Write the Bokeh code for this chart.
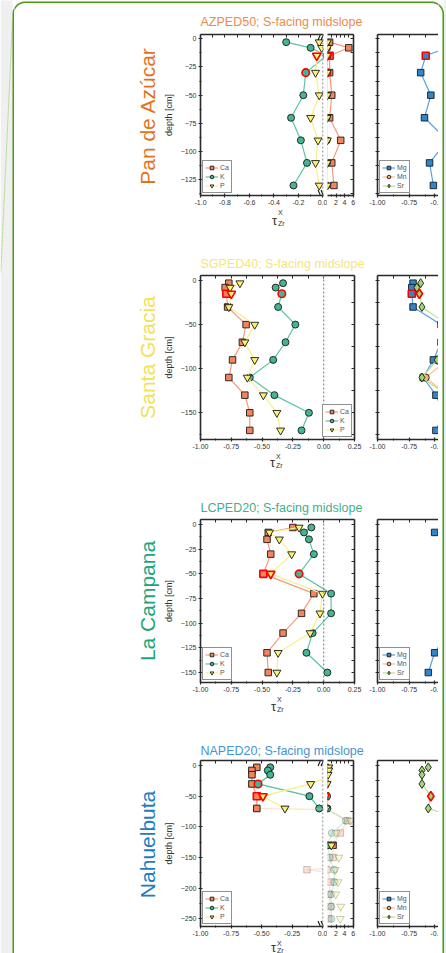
import math
import numpy as np
from bokeh.plotting import figure
from bokeh.layouts import row, column
from bokeh.models import (Range1d, LinearAxis, FixedTicker, Label, Span, Legend,
                          LegendItem, PrintfTickFormatter)
from bokeh.embed import file_html
from bokeh.resources import INLINE

# ------------------------------------------------------------------ data
# Pan de Azucar  (AZPED50)
az_depth = [3, 8, 15, 30, 50, 70, 90, 110, 130]
az_ca = [0.5, 5.0, 0.5, 0.5, 1.0, 0.5, 3.1, 1.0, 1.5]
az_k = [-0.30, -0.10, 0.03, -0.14, -0.16, -0.26, -0.18, -0.13, -0.24]
az_p = [-0.03, -0.01, -0.05, -0.06, -0.03, -0.10, -0.04, -0.06, -0.03]
az_mg = [-0.40, -0.45, -0.62, -0.66, -0.58, -0.63, -0.45, -0.59, -0.56]
az_mn = [-0.20, -0.25, -0.30, -0.25, -0.20, -0.30, -0.15, -0.25, -0.20]
az_sr = [-0.10, -0.15, -0.20, -0.15, -0.10, -0.20, -0.05, -0.15, -0.10]
az_hi_left = [15, 30, 15]      # Ca, K, P
az_hi_right = [15, 15, 15]     # Mg, Mn, Sr

# Santa Gracia  (SGPED40)
sg_depth = [3, 8, 15, 30, 50, 70, 90, 110, 130, 150, 170]
sg_ca = [-0.77, -0.80, -0.79, -0.78, -0.63, -0.66, -0.74, -0.77, -0.64, -0.60, -0.60]
sg_k = [-0.33, -0.39, -0.34, -0.37, -0.23, -0.31, -0.41, -0.60, -0.40, -0.12, -0.18]
sg_p = [-0.68, -0.76, -0.75, -0.77, -0.56, -0.64, -0.56, -0.62, -0.49, -0.38, -0.35]
sg_mg = [-0.72, -0.73, -0.73, -0.72, -0.50, -0.50, -0.56, -0.64, -0.54, -0.48, -0.54]
sg_mn = [-0.45, -0.45, -0.40, -0.42, -0.35, -0.38, -0.45, -0.62, -0.45, -0.40, -0.42]
sg_sr = [-0.66, -0.69, -0.67, -0.65, -0.45, -0.45, -0.53, -0.65, -0.45, -0.42, -0.44]
sg_hi_left = [15, 15, 15]
sg_hi_right = [15, 15, 15]

# La Campana  (LCPED20)
lc_depth = [3, 8, 15, 30, 50, 70, 90, 110, 130, 150]
lc_ca = [-0.25, -0.45, -0.46, -0.43, -0.49, -0.08, -0.18, -0.33, -0.46, -0.45]
lc_k = [-0.10, -0.16, -0.12, -0.08, -0.20, 0.06, 0.06, -0.09, -0.14, 0.03]
lc_p = [-0.20, -0.44, -0.36, -0.26, -0.43, -0.01, -0.03, -0.11, -0.37, -0.38]
lc_mg = [-0.48, -0.55, -0.47, -0.40, -0.42, -0.35, -0.38, -0.45, -0.55, -0.60]
lc_mn = [-0.30, -0.35, -0.30, -0.25, -0.30, -0.20, -0.20, -0.25, -0.30, -0.30]
lc_sr = [-0.25, -0.30, -0.28, -0.22, -0.25, -0.15, -0.15, -0.20, -0.25, -0.28]
lc_hi_left = [50, 50, 50]
lc_hi_right = [50, 50, 50]

# Nahuelbuta  (NAPED20)
na_depth = [3, 8, 15, 30, 50, 70, 90, 110, 130, 150, 170, 190, 210, 230, 250]
na_ca = [-0.54, -0.58, -0.58, -0.58, -0.54, -0.54, 4.7, 3.0, 1.3, 1.3, -0.13, 0.7, 0.3, 0.7, 0.3]
na_k = [-0.43, -0.45, -0.43, -0.53, -0.11, -0.03, 4.3, 1.0, 0.05, 0.5, 1.55, 1.6, 0.8, 0.9, 0.9]
na_p = [0.3, 0.3, 0.1, -0.10, -0.49, -0.31, 5.4, 2.0, 0.9, 2.65, 1.8, 2.5, 1.9, 3.1, 3.0]
na_valid = [1, 1, 1, 1, 1, 1, 0, 0, 1, 0, 0, 0, 0, 0, 0]
na_mg = [-0.30, -0.35, -0.35, -0.30, -0.30, -0.25, -0.20, -0.25, -0.30, -0.30, -0.25, -0.30, -0.30, -0.25, -0.30]
na_mn = [-0.20, -0.25, -0.25, -0.20, -0.20, -0.15, -0.10, -0.15, -0.20, -0.20, -0.15, -0.20, -0.20, -0.15, -0.20]
na_sr = [-0.60, -0.65, -0.65, -0.65, -0.58, -0.60, -0.30, -0.35, -0.40, -0.35, -0.35, -0.40, -0.40, -0.35, -0.40]
na_hi_left = [50, 30, 50]
na_hi_right = [50, 50, 50]

sites = ["Pan de Azúcar", "Santa Gracia", "La Campana", "Nahuelbuta"]
titles = ["AZPED50; S-facing midslope", "SGPED40; S-facing midslope",
          "LCPED20; S-facing midslope", "NAPED20; S-facing midslope"]

# ------------------------------------------------------------------ style
FONT = "Liberation Sans"
TICKFONT = "Liberation Sans"
AXC = "#2a2a2a"
TXT = "#333333"
GREEN = "#4f9a1c"
GRAY = "#f0f0f0"
SITE_COLORS = ["#e4731f", "#f1e15b", "#1ea57c", "#1d7dc2"]
TITLE_COLORS = ["#ee8a4c", "#f5e679", "#3fb08b", "#4595cf"]

CA_FILL, CA_LINE = "#f4845c", "#f59a7b"
K_FILL, K_LINE = "#44b592", "#5ec3a3"
P_FILL, P_LINE = "#fbf36e", "#f7ef8c"
MG_FILL, MG_LINE = "#2f86cc", "#5aa2dc"
MN_FILL, MN_LINE = "#fdb06a", "#fdbf86"
SR_FILL, SR_LINE = "#a3d56f", "#b9e092"

PAGE_W, PAGE_H = 446, 953
IN_L, IN_R = 14, 438
A_LEFT = 160
A_FRAME_L = 199
C_LEFT = 364
C_FRAME_L = 377
MB = 13


def new_fig(w, h, xr, yr, ml=0, mr=0, mt=0, mb=0):
    p = figure(width=w, height=h, x_range=xr, y_range=yr, title=None,
               min_border_left=ml, min_border_right=mr,
               min_border_top=mt, min_border_bottom=mb,
               toolbar_location=None, output_backend="svg",
               x_axis_location=None, y_axis_location=None)
    p.outline_line_color = None
    p.background_fill_color = "white"
    p.border_fill_color = "white"
    for g in p.grid:
        g.visible = False
    return p


def page_fig(x0, x1, y0, y1):
    """Figure whose data coordinates are page pixels (y downwards)."""
    return new_fig(x1 - x0, y1 - y0, Range1d(x0, x1), Range1d(y1, y0))


def decorate(p):
    p.quad(left=0, right=12, bottom=0, top=PAGE_H, fill_color=GRAY, line_color=None)
    p.quad(left=443.6, right=PAGE_W, bottom=0, top=PAGE_H, fill_color=GRAY, line_color=None)
    p.quad(left=0, right=PAGE_W, bottom=0, top=0.8, fill_color=GRAY, line_color=None)
    r = 12.0
    lx, rx, ty = 12.75, 442.75, 1.75
    t1 = np.linspace(np.pi, 1.5 * np.pi, 24)
    t2 = np.linspace(1.5 * np.pi, 2 * np.pi, 24)
    xs = [lx] + list(lx + r + r * np.cos(t1)) + list(rx - r + r * np.cos(t2)) + [rx]
    ys = [PAGE_H] + list(ty + r + r * np.sin(t1)) + list(ty + r + r * np.sin(t2)) + [PAGE_H]
    p.line(xs, ys, line_color=GREEN, line_width=1.6)
    p.line([12.0, 0.3], [20, 272], line_color="#6fae3c", line_width=1,
           line_dash="1 1", line_alpha=0.7)


def axis(p, side, ticks, minor, fmt=None, over=None, label=None):
    ax = LinearAxis(ticker=FixedTicker(ticks=ticks, minor_ticks=minor))
    ax.axis_line_color = AXC
    ax.axis_line_width = 1.6
    ax.major_tick_line_color = AXC
    ax.major_tick_line_width = 1.2
    ax.minor_tick_line_color = AXC
    ax.major_tick_in = 2
    ax.major_tick_out = 2
    ax.minor_tick_in = 1
    ax.minor_tick_out = 1
    ax.major_label_text_font = TICKFONT
    ax.major_label_text_font_size = "7px"
    ax.major_label_text_color = TXT
    ax.major_label_standoff = 2
    if fmt is not None:
        ax.formatter = fmt
    if over is not None:
        ax.major_label_overrides = over
    if label:
        ax.axis_label = label
        ax.axis_label_text_font = FONT
        ax.axis_label_text_font_size = "9px"
        ax.axis_label_text_font_style = "normal"
        ax.axis_label_text_color = TXT
        ax.axis_label_standoff = 4
    p.add_layout(ax, side)
    return ax


def spine(p, side, ticks, tin=3, tout=0):
    ax = LinearAxis(ticker=FixedTicker(ticks=[], minor_ticks=ticks))
    ax.axis_line_color = AXC
    ax.axis_line_width = 1.6
    ax.minor_tick_line_color = AXC
    ax.minor_tick_in = tin
    ax.minor_tick_out = tout
    p.add_layout(ax, side)
    return ax


def series(p, depth, vals, marker, fill, linec, size, hi, valid=None):
    ys = [-d for d in depth]
    edge = "#1a1a1a"
    if valid is None:
        lr = p.line(vals, ys, line_color=linec, line_width=1.2)
        sr = p.scatter(vals, ys, marker=marker, size=size, fill_color=fill,
                       line_color=edge, line_width=0.9)
    else:
        p.line(vals, ys, line_color=linec, line_width=1.2, line_alpha=0.3)
        p.scatter(vals, ys, marker=marker, size=size, fill_color=fill, line_color=edge,
                  line_width=0.9, fill_alpha=0.25, line_alpha=0.25)
        vv = [v if ok else float("nan") for v, ok in zip(vals, valid)]
        lr = p.line(vv, ys, line_color=linec, line_width=1.2)
        sx = [v for v, ok in zip(vals, valid) if ok]
        sy = [y for y, ok in zip(ys, valid) if ok]
        sr = p.scatter(sx, sy, marker=marker, size=size, fill_color=fill,
                       line_color=edge, line_width=0.9)
    if hi in depth:
        i = depth.index(hi)
        p.scatter([vals[i]], [ys[i]], marker=marker, size=size + 0.5, fill_color=fill,
                  line_color="#ff0000", line_width=1.6)
    return lr, sr


def add_legend(p, items, loc):
    lg = Legend(items=[LegendItem(label=l, renderers=list(r)) for l, r in items],
                location=loc)
    lg.margin = 2
    lg.padding = 2
    lg.spacing = 0
    lg.label_text_font = TICKFONT
    lg.label_text_font_size = "7px"
    lg.label_text_color = "#555555"
    lg.label_height = 9
    lg.label_width = 7
    lg.glyph_height = 9
    lg.glyph_width = 13
    lg.label_standoff = 2
    lg.border_line_color = "#222222"
    lg.border_line_width = 1.3
    lg.background_fill_color = "white"
    lg.background_fill_alpha = 1.0
    p.add_layout(lg)


def title_strip(y0, y1, text, color, cy, border=False):
    p = page_fig(IN_L, IN_R, y0, y1)
    if border:
        decorate(p)
    p.add_layout(Label(x=200, y=cy, text=text, text_font=FONT, text_font_size="12.5px",
                       text_color=color, text_align="left", text_baseline="middle"))
    return p


def tau_strip(y0, y1, cx, cy, cy_sup, cy_sub):
    p = page_fig(IN_L, IN_R, y0, y1)
    p.add_layout(Label(x=cx, y=cy, text="τ", text_font=FONT, text_font_size="13px",
                       text_color=TXT, text_align="center", text_baseline="middle"))
    p.add_layout(Label(x=cx + 3.5, y=cy_sup, text="X", text_font=FONT, text_font_size="7px",
                       text_color=TXT, text_align="left", text_baseline="middle"))
    p.add_layout(Label(x=cx + 3.5, y=cy_sub, text="Zr", text_font=FONT, text_font_size="7px",
                       text_color=TXT, text_align="left", text_baseline="middle"))
    return p


def make_row(idx, top, H, mt, yr, y_major, y_minor, depth, lcols, rcols, hi_l, hi_r,
             valid, broken, x_major, x_minor, x_fmt, x_over, leg_l, leg_r, name_cy):
    frame_top = top + mt
    frame_bottom = top + H - MB
    y_all = sorted(y_major + y_minor)
    x_all = sorted(x_major + x_minor)

    # row label (site name)
    L = page_fig(IN_L, A_LEFT, top, top + H)
    L.add_layout(Label(x=147, y=name_cy, text=sites[idx], angle=math.pi / 2, text_font=FONT,
                       text_font_size="21px", text_color=SITE_COLORS[idx],
                       text_align="center", text_baseline="middle"))
    kids = [L]

    if broken:
        a_right, a_mr, a_xr = 327, 4, Range1d(-1.0, 0.005)
    else:
        a_right, a_mr, a_xr = C_LEFT, 10, Range1d(-1.0, 0.25)
    A_W = a_right - A_LEFT
    A = new_fig(A_W, H, a_xr, Range1d(*yr), ml=A_FRAME_L - A_LEFT, mr=a_mr, mt=mt, mb=MB)
    axis(A, "below", x_major, x_minor, fmt=x_fmt, over=x_over)
    axis(A, "left", y_major, y_minor, label="depth [cm]")
    spine(A, "above", x_all)
    if not broken:
        spine(A, "right", y_all)
    A.add_layout(Span(location=0, dimension="height", line_color="#8a8a8a",
                      line_dash="2 2", line_width=1.2))
    ca, kk, pp = lcols
    r_ca = series(A, depth, ca, "square", CA_FILL, CA_LINE, 6.5, hi_l[0], valid)
    r_k = series(A, depth, kk, "circle", K_FILL, K_LINE, 7, hi_l[1], valid)
    r_p = series(A, depth, pp, "inverted_triangle", P_FILL, P_LINE, 8, hi_l[2], valid)
    add_legend(A, [("Ca", r_ca), ("K", r_k), ("P", r_p)], leg_l)
    kids.append(A)

    if broken:
        # axis-break marks "//" at the right edge of the left part
        fw = a_right - a_mr - A_FRAME_L
        sx = (a_xr.end - a_xr.start) / fw
        sy = (yr[1] - yr[0]) / (frame_bottom - frame_top)
        def px(x):
            return a_xr.start + (x - A_FRAME_L) * sx
        def py(y):
            return yr[1] - (y - frame_top) * sy
        x0s, y0s, x1s, y1s = [], [], [], []
        for yb, d in ((frame_top, 1), (frame_bottom, -1)):
            for xo in (317.5, 320.5):
                x0s.append(px(xo)); y0s.append(py(yb + d * 5.5))
                x1s.append(px(xo + 2.2)); y1s.append(py(yb + d * 0.5))
        A.segment(x0s, y0s, x1s, y1s, line_color="#111111", line_width=1.1)

        B_W = C_LEFT - 327
        B = new_fig(B_W, H, Range1d(0, 6.1), Range1d(*yr), ml=0, mr=B_W - 26, mt=mt, mb=MB)
        axis(B, "below", [2, 4, 6], [1, 3, 5])
        spine(B, "above", [1, 2, 3, 4, 5, 6])
        spine(B, "right", y_all)
        series(B, depth, ca, "square", CA_FILL, CA_LINE, 6.5, hi_l[0], valid)
        series(B, depth, kk, "circle", K_FILL, K_LINE, 7, hi_l[1], valid)
        series(B, depth, pp, "inverted_triangle", P_FILL, P_LINE, 8, hi_l[2], valid)
        kids.append(B)

    C_W = IN_R - C_LEFT
    C = new_fig(C_W, H, Range1d(-1.0, -1.0 + 61 / 127), Range1d(*yr),
                ml=C_FRAME_L - C_LEFT, mr=0, mt=mt, mb=MB)
    axis(C, "below", [-1.0, -0.75, -0.55], [-0.875, -0.625],
         fmt=PrintfTickFormatter(format="%.2f"), over={-0.55: "-0."})
    spine(C, "left", y_all, tin=2, tout=2)
    spine(C, "above", [-1.0, -0.875, -0.75, -0.625])
    mg, mn, sr = rcols
    r_mg = series(C, depth, mg, "square", MG_FILL, MG_LINE, 6.5, hi_r[0])
    r_mn = series(C, depth, mn, "circle", MN_FILL, MN_LINE, 7, hi_r[1])
    r_sr = series(C, depth, sr, "diamond", SR_FILL, SR_LINE, 9, hi_r[2])
    if leg_r:
        add_legend(C, [("Mg", r_mg), ("Mn", r_mn), ("Sr", r_sr)], leg_r)
    kids.append(C)
    return row(kids)


f1 = PrintfTickFormatter(format="%.1f")
f2 = PrintfTickFormatter(format="%.2f")

T1 = title_strip(0, 30, titles[0], TITLE_COLORS[0], 21.5, border=True)
R1 = make_row(0, 30, 178, 4, (-138.9, 3.8), [0, -25, -50, -75, -100, -125],
              [-12.5, -37.5, -62.5, -87.5, -112.5, -137.5],
              az_depth, (az_ca, az_k, az_p), (az_mg, az_mn, az_sr), az_hi_left, az_hi_right,
              None, True, [-1.0, -0.8, -0.6, -0.4, -0.2, 0.0],
              [-0.9, -0.7, -0.5, -0.3, -0.1], f1, None, "bottom_left", "bottom_left", 120)
U1 = tau_strip(208, 250, 274, 220, 212, 223)

T2 = title_strip(250, 272, titles[1], TITLE_COLORS[1], 263)
R2 = make_row(1, 272, 180, 3, (-180.3, 5.7), [0, -50, -100, -150],
              [-25, -75, -125, -175],
              sg_depth, (sg_ca, sg_k, sg_p), (sg_mg, sg_mn, sg_sr), sg_hi_left, sg_hi_right,
              None, False, [-1.0, -0.75, -0.5, -0.25, 0.0, 0.25],
              [-0.875, -0.625, -0.375, -0.125, 0.125], f2, None, "bottom_right", None, 362)
U2 = tau_strip(452, 495, 272, 462, 455.5, 465)

T3 = title_strip(495, 517, titles[2], TITLE_COLORS[2], 507.5)
R3 = make_row(2, 517, 178, 2, (-160.1, 5.1), [0, -25, -50, -75, -100, -125, -150],
              [-12.5, -37.5, -62.5, -87.5, -112.5, -137.5],
              lc_depth, (lc_ca, lc_k, lc_p), (lc_mg, lc_mn, lc_sr), lc_hi_left, lc_hi_right,
              None, False, [-1.0, -0.75, -0.5, -0.25, 0.0, 0.25],
              [-0.875, -0.625, -0.375, -0.125, 0.125], f2, None, "bottom_left", "bottom_left",
              606)
U3 = tau_strip(695, 735, 273, 705.5, 698.5, 709)

T4 = title_strip(735, 758, titles[3], TITLE_COLORS[3], 750)
R4 = make_row(3, 758, 181, 2, (-262.5, 8.2), [0, -50, -100, -150, -200, -250],
              [-25, -75, -125, -175, -225],
              na_depth, (na_ca, na_k, na_p), (na_mg, na_mn, na_sr), na_hi_left, na_hi_right,
              na_valid, True, [-1.0, -0.75, -0.5, -0.25, 0.0],
              [-0.875, -0.625, -0.375, -0.125], f2, {0: "0.0"}, "bottom_left", "bottom_left",
              849.5)
U4 = tau_strip(939, 953, 273, 946.5, 942.5, 949.5)

left_strip = page_fig(0, IN_L, 0, PAGE_H)
decorate(left_strip)
right_strip = page_fig(IN_R, PAGE_W, 0, PAGE_H)
decorate(right_strip)

mid = column(T1, R1, U1, T2, R2, U2, T3, R3, U3, T4, R4, U4)
layout = row(left_strip, mid, right_strip)

open("out.html", "w").write(file_html(layout, INLINE))
